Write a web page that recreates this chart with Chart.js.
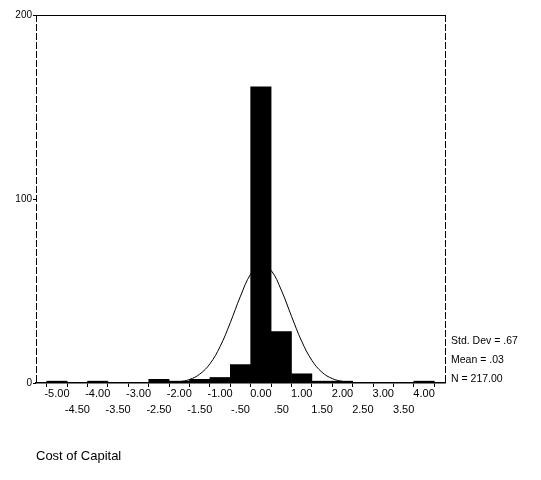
<!DOCTYPE html>
<html>
<head>
<meta charset="utf-8">
<script src="https://cdn.jsdelivr.net/npm/chart.js@4/dist/chart.umd.min.js"></script>
<style>
  html, body { margin: 0; padding: 0; background: #fff; }
  #wrap { width: 541px; height: 480px; }
</style>
</head>
<body>
<div id="wrap"><canvas id="c" width="541" height="480"></canvas></div>
<script>
// Histogram bins (centre of each 0.50-wide bin) and their counts
const binCenters = [-5.0, -4.5, -4.0, -3.5, -3.0, -2.5, -2.0, -1.5, -1.0, -0.5, 0.0, 0.5, 1.0, 1.5, 2.0, 2.5, 3.0, 3.5, 4.0];
const binCounts  = [1, 0, 1, 0, 0, 2, 1, 2, 3, 10, 161, 28, 5, 1, 1, 0, 0, 0, 1];

// Tick labels under each bin centre (whole values on the first row, halves on the second)
const tickLabels = ['-5.00', '-4.50', '-4.00', '-3.50', '-3.00', '-2.50', '-2.00', '-1.50', '-1.00', '-.50',
                    '0.00', '.50', '1.00', '1.50', '2.00', '2.50', '3.00', '3.50', '4.00'];

// Normal curve overlay, sampled every 0.25
const curveX = [-2.5, -2.25, -2.0, -1.75, -1.5, -1.25, -1.0, -0.75, -0.5, -0.25, 0.0, 0.25, 0.5, 0.75, 1.0, 1.25, 1.5, 1.75, 2.0, 2.25, 2.5];
const curveY = [0.1, 0.2, 0.7, 1.9, 4.8, 10.4, 19.8, 32.8, 47.2, 59.2, 64.5, 61.2, 50.5, 36.3, 22.7, 12.3, 5.8, 2.4, 0.9, 0.3, 0.1];

const yTicks = [0, 100, 200];
const statLines = ['Std. Dev = .67', 'Mean = .03', 'N = 217.00'];
const axisTitle = 'Cost of Capital';

const FONT = '"Liberation Sans", Arial, sans-serif';

// Plot frame (dashed sides, solid top) and the summary statistics
const framePlugin = {
  id: 'frame',
  afterDatasetsDraw(chart) {
    const { ctx, chartArea: a } = chart;
    ctx.save();
    ctx.strokeStyle = '#000';
    ctx.lineWidth = 1;
    ctx.beginPath();
    ctx.moveTo(a.left, a.top + 0.5);
    ctx.lineTo(a.right, a.top + 0.5);
    ctx.stroke();
    ctx.setLineDash([7, 2]);
    ctx.beginPath();
    ctx.moveTo(a.right + 0.5, a.top);
    ctx.lineTo(a.right + 0.5, a.bottom);
    ctx.moveTo(a.left + 0.5, a.top);
    ctx.lineTo(a.left + 0.5, a.bottom);
    ctx.stroke();
    ctx.restore();
  },
  afterDraw(chart) {
    const { ctx, chartArea: a } = chart;
    ctx.save();
    ctx.fillStyle = '#000';
    ctx.font = '10.5px ' + FONT;
    ctx.textAlign = 'left';
    ctx.textBaseline = 'middle';
    const gap = 19;
    statLines.forEach((t, i) => {
      ctx.fillText(t, a.right + 6, a.bottom - 4 - (statLines.length - 1 - i) * gap);
    });
    ctx.restore();
  }
};

new Chart(document.getElementById('c'), {
  data: {
    datasets: [
      {
        type: 'line',
        data: curveX.map((x, i) => ({ x, y: curveY[i] })),
        borderColor: '#000',
        borderWidth: 1,
        pointRadius: 0,
        tension: 0.4,
        fill: false,
        order: 0
      },
      {
        type: 'bar',
        data: binCenters.map((x, i) => ({ x, y: binCounts[i] })),
        backgroundColor: '#000',
        borderWidth: 0,
        barPercentage: 1,
        categoryPercentage: 1,
        order: 1
      }
    ]
  },
  options: {
    responsive: false,
    animation: false,
    layout: { padding: { left: 0, right: 96, top: 15, bottom: 0 } },
    plugins: { legend: { display: false }, tooltip: { enabled: false } },
    scales: {
      x: {
        type: 'linear',
        min: -5.25,
        max: 4.25,
        afterBuildTicks(scale) { scale.ticks = binCenters.map(v => ({ value: v })); },
        afterFit(scale) { scale.height = 97; },
        grid: { display: true, drawOnChartArea: false, drawTicks: true, tickLength: 4, color: '#000', lineWidth: 1 },
        border: { display: true, color: '#000', width: 1.5 },
        ticks: {
          autoSkip: false,
          maxRotation: 0,
          minRotation: 0,
          padding: -1,
          color: '#000',
          font: { family: FONT, size: 11, lineHeight: 1.45 },
          callback(value, index) {
            const lbl = tickLabels[index];
            return index % 2 === 0 ? [lbl, ''] : ['', lbl];
          }
        },
        title: {
          display: true,
          text: axisTitle,
          align: 'start',
          color: '#000',
          font: { family: FONT, size: 13 },
          padding: { top: 0, bottom: 16 }
        }
      },
      y: {
        min: 0,
        max: 200,
        afterBuildTicks(scale) { scale.ticks = yTicks.map(v => ({ value: v })); },
        afterFit(scale) { scale.width = 36; },
        grid: { display: true, drawOnChartArea: false, drawTicks: true, tickLength: 3, color: '#000' },
        border: { display: false },
        ticks: {
          padding: 1,
          color: '#000',
          font: { family: FONT, size: 10 }
        }
      }
    }
  },
  plugins: [framePlugin]
});
</script>
</body>
</html>
